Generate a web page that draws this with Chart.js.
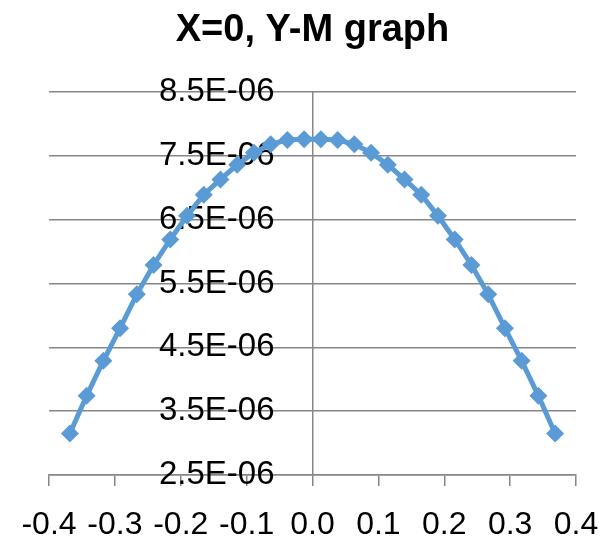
<!DOCTYPE html>
<html><head><meta charset="utf-8">
<script src="https://cdn.jsdelivr.net/npm/chart.js@4.4.1/dist/chart.umd.min.js"></script>
<style>html,body{margin:0;padding:0;background:#fff}#wrap{width:606px;height:540px;position:relative}</style>
</head><body><div id="wrap"><canvas id="c"></canvas></div>
<script>
const chartTitle = 'X=0, Y-M graph';
const xValues = [-0.3683,-0.3429,-0.3175,-0.2921,-0.2667,-0.2413,-0.2159,-0.1905,-0.1651,-0.1397,-0.1143,-0.0889,-0.0635,-0.0381,-0.0127,
                 0.0127,0.0381,0.0635,0.0889,0.1143,0.1397,0.1651,0.1905,0.2159,0.2413,0.2667,0.2921,0.3175,0.3429,0.3683];
const yValues = [3.15e-6,3.74e-6,4.29e-6,4.80e-6,5.33e-6,5.79e-6,6.19e-6,6.56e-6,6.89e-6,7.13e-6,7.36e-6,7.55e-6,7.68e-6,7.75e-6,7.76e-6,
                 7.76e-6,7.75e-6,7.68e-6,7.55e-6,7.36e-6,7.13e-6,6.89e-6,6.56e-6,6.19e-6,5.79e-6,5.33e-6,4.80e-6,4.29e-6,3.74e-6,3.15e-6];
const xTickValues = [-0.4,-0.3,-0.2,-0.1,0,0.1,0.2,0.3,0.4];
const xTickLabels = ['-0.4','-0.3','-0.2','-0.1','0.0','0.1','0.2','0.3','0.4'];
const yTickValues = [2.5e-6,3.5e-6,4.5e-6,5.5e-6,6.5e-6,7.5e-6,8.5e-6];
const yTickLabels = ['2.5E-06','3.5E-06','4.5E-06','5.5E-06','6.5E-06','7.5E-06','8.5E-06'];

const points = xValues.map((x, i) => ({x: x, y: yValues[i]}));
const gridGray = '#868686';
const FONT = "'Liberation Sans', Arial, sans-serif";

new Chart(document.getElementById('c'), {
  type: 'line',
  data: { datasets: [{
    data: points,
    borderColor: '#5B9BD5',
    backgroundColor: '#5B9BD5',
    borderWidth: 5,
    pointStyle: 'rectRot',
    pointRadius: 9,
    pointHoverRadius: 9,
    pointBorderWidth: 0,
    tension: 0,
    clip: false
  }]},
  options: {
    responsive: true,
    maintainAspectRatio: false,
    animation: false,
    layout: { padding: { left: 49, right: 30, top: 0, bottom: 0 } },
    plugins: {
      legend: { display: false },
      tooltip: { enabled: false },
      title: {
        display: true,
        text: chartTitle,
        color: '#000',
        font: { family: FONT, size: 38, weight: 'bold', lineHeight: 1.2 },
        padding: { top: 8, bottom: 38.4 }
      }
    },
    scales: {
      x: {
        type: 'linear',
        min: -0.4, max: 0.4,
        afterBuildTicks: s => { s.ticks = xTickValues.map(v => ({value: v})); },
        afterFit: s => { s.height = 65; s.paddingLeft = 0; s.paddingRight = 0; },
        ticks: {
          callback: (v, i) => xTickLabels[i],
          color: '#000',
          font: { family: FONT, size: 32 },
          padding: 20,
          maxRotation: 0, autoSkip: false
        },
        grid: { drawOnChartArea: false, drawTicks: true, tickLength: 11, color: gridGray, lineWidth: 1.5 },
        border: { color: gridGray, width: 1.5 }
      },
      y: {
        type: 'linear',
        position: 'center',
        min: 2.5e-6, max: 8.5e-6,
        afterBuildTicks: s => { s.ticks = yTickValues.map(v => ({value: v})); },
        ticks: {
          callback: (v, i) => yTickLabels[i],
          color: '#000',
          font: { family: FONT, size: 33 },
          padding: 38,
          autoSkip: false
        },
        grid: { drawTicks: false, color: gridGray, lineWidth: 1.5 },
        border: { color: gridGray, width: 1.5 }
      }
    }
  }
});
</script></body></html>
